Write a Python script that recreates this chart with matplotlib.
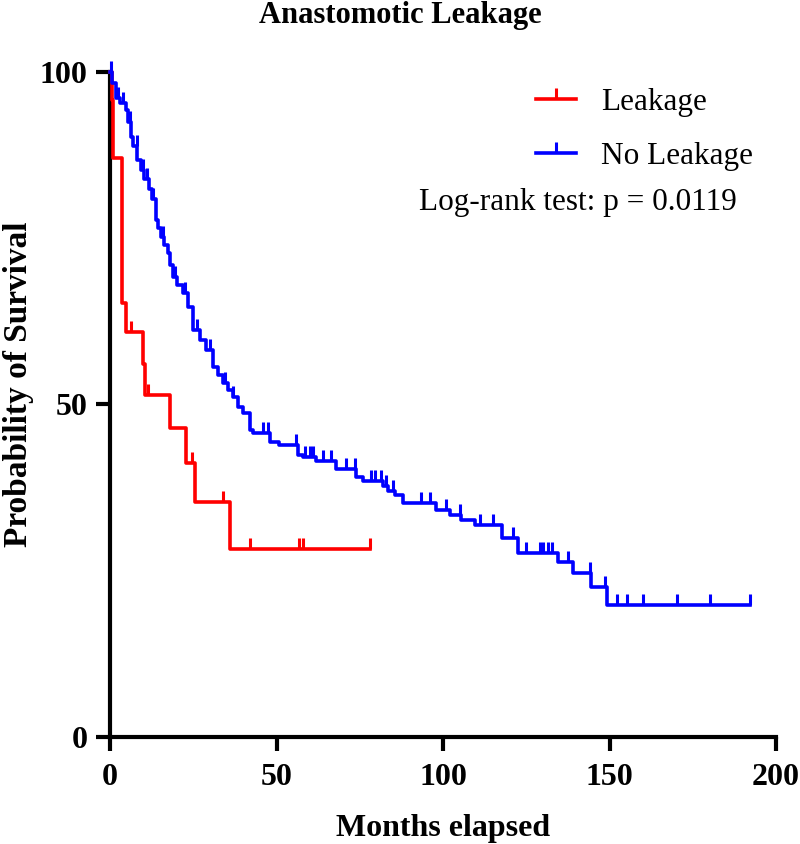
import numpy as np
import matplotlib
matplotlib.use("Agg")
import matplotlib.pyplot as plt
from matplotlib.lines import Line2D

plt.rcParams['font.family'] = ['Liberation Serif', 'DejaVu Serif']

# Kaplan-Meier steps: (event time, survival after the drop)
leak_times = [0, 0.5, 0.8, 3.5, 3.7, 4.8, 9.8, 10.5, 18.1, 22.8, 25.6, 35.9]
leak_surv = [100, 95.7, 87.0, 82.6, 65.3, 60.9, 56.0, 51.4, 46.4, 41.2, 35.3, 28.3]
leak_censor = [6.3, 11.5, 24.6, 33.9, 42.1, 56.7, 58.1, 78.0]
leak_end = 78.0

noleak_times = [0, 0.5, 1.8, 3.0, 4.8, 5.5, 6.3, 7.0, 8.2, 9.2, 10.3, 11.8, 12.5,
                13.8, 14.5, 15.3, 16.3, 17.3, 18.0, 18.8, 20.0, 21.8, 23.3, 24.8,
                26.9, 28.9, 30.9, 32.5, 33.9, 35.5, 36.9, 38.3, 39.9, 41.9, 42.9,
                47.9, 50.9, 56.4, 58.0, 62.0, 67.9, 74.0, 76.0, 82.0, 83.5, 85.5,
                88.0, 98.0, 102.0, 105.5, 109.6, 117.6, 122.6, 134.4, 139.0, 144.4,
                149.3]
noleak_surv = [100, 98.3, 96.0, 95.3, 94.3, 92.5, 90.2, 88.8, 86.8, 85.3, 83.8, 82.3,
               80.8, 77.7, 76.5, 75.2, 74.0, 72.8, 71.0, 69.2, 68.0, 66.8, 64.7, 61.2,
               59.7, 58.2, 55.6, 54.4, 53.2, 52.2, 51.1, 49.6, 48.7, 46.2, 45.7,
               44.4, 43.9, 42.4, 42.0, 41.4, 40.2, 39.1, 38.5, 37.7, 37.0, 36.4,
               35.2, 34.1, 33.4, 32.6, 31.9, 29.9, 27.7, 26.3, 24.7, 22.6,
               19.8]
noleak_censor = [0.3, 2.5, 4.0, 6.0, 8.0, 10.0, 11.0, 13.0, 16.0, 19.5, 22.5, 26.0,
                 30.0, 34.4, 37.0, 45.9, 47.4, 55.9, 58.5, 60.0, 61.0, 64.0, 66.4,
                 71.0, 73.5, 78.5, 79.5, 81.5, 83.0, 85.0, 93.5, 96.0, 101.0, 105.0,
                 111.0, 115.0, 121.0, 125.0, 129.0, 130.0, 131.6, 132.6, 137.6, 144.0,
                 148.7, 152.2, 155.2, 160.2, 170.4, 180.2, 192.3]
noleak_end = 192.3

groups = [
    ("Leakage", leak_times, leak_surv, leak_censor, leak_end, "#ff0000"),
    ("No Leakage", noleak_times, noleak_surv, noleak_censor, noleak_end, "#0000ff"),
]

fig = plt.figure(figsize=(8, 8.44), dpi=100)
ax = fig.add_axes([0.1375, 0.127, 0.8325, 0.788])

handles = []
for name, t, s, cens, end, col in groups:
    tt = np.array(t + [end])
    ss = np.array(s + [s[-1]])
    ax.step(tt, ss, where='post', color=col, lw=2.6, clip_on=False, zorder=3)
    idx = np.searchsorted(np.array(t), np.array(cens), side='right') - 1
    cy = np.array(s)[idx]
    ax.plot(cens, cy, linestyle='none', marker=2, markersize=8, mew=2.2,
            color=col, clip_on=False, zorder=3)
    handles.append(Line2D([], [], color=col, lw=2.6, marker=2, markersize=8, mew=2.2))

ax.set_xlim(0, 200)
ax.set_ylim(0, 100)
ax.set_xticks([0, 50, 100, 150, 200])
ax.set_yticks([0, 50, 100])

for side in ['top', 'right']:
    ax.spines[side].set_visible(False)
for side in ['left', 'bottom']:
    ax.spines[side].set_linewidth(3)
ax.tick_params(width=3, length=10, labelsize=23, pad=6)
ax.tick_params(axis='x', pad=9)
for lab in ax.get_xticklabels() + ax.get_yticklabels():
    lab.set_fontweight('bold')

ax.set_xlabel("Months elapsed", fontsize=23, fontweight='bold', labelpad=16)
ax.set_ylabel("Probability of Survival", fontsize=24, fontweight='bold')
ax.yaxis.set_label_coords(-0.114, 0.53)
fig.suptitle("Anastomotic Leakage", fontsize=22, fontweight='bold', x=0.5, y=0.999,
             va='top')

ax.legend(handles=handles, labels=[g[0] for g in groups], loc='upper left',
          bbox_to_anchor=(0.597, 1.018), frameon=False, fontsize=22.5,
          handlelength=1.3, handletextpad=0.8, labelspacing=0.8)
ax.text(0.941, 0.803, "Log-rank test: p = 0.0119", transform=ax.transAxes,
        fontsize=22.5, ha='right', va='center')

fig.savefig("out.png", dpi=100)
